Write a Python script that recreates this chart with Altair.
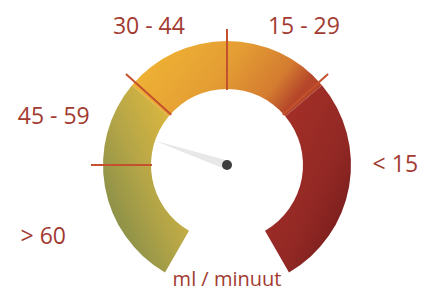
import math
import altair as alt
import pandas as pd

# ---------------- data ----------------
band_start = [-150, -50, 50]          # gauge band boundaries (degrees, 0 = top)
band_end = [-50, 50, 150]
tick_angles = [-90, -48, 0, 48]
needle_angle = -71.5
label_text = ["> 60", "45 - 59", "30 - 44", "15 - 29", "< 15"]
label_angle = [-113.3, -76.7, -30.8, 30.4, 92.5]
label_radius = [200, 178, 152.5, 152, 168.5]
unit_text = ["ml / minuut"]
unit_angle = [180]
unit_radius = [121]

# ---------------- styles ----------------
W, H = 410, 285
xs = alt.Scale(domain=[-219, 191], nice=False, zero=False)
ys = alt.Scale(domain=[-128, 157], nice=False, zero=False)
ts = alt.Scale(domain=[-180, 180], range=[-math.pi, math.pi])
TXT = "#a23b31"
FONT = "Open Sans"


def grad(x1, y1, x2, y2, stops):
    return alt.LinearGradient(
        gradient="linear", x1=x1, y1=y1, x2=x2, y2=y2,
        stops=[alt.GradientStop(offset=o, color=c) for o, c in stops],
    )


gradients = [
    grad(1, 0, 0, 1, [(0, "#f0c03b"), (0.5, "#b6a647"), (0.9, "#7e8a49"), (1, "#76884a")]),
    grad(0, 0, 1, 0.3, [(0, "#f2b935"), (0.55, "#e49d33"), (0.85, "#d47c30"), (1, "#b5462a")]),
    grad(0, 0, 1, 1, [(0, "#ab3229"), (0.6, "#922824"), (1, "#6a1818")]),
]

layers = []
for i in range(len(band_start)):
    df = pd.DataFrame({"start": [band_start[i]], "end": [band_end[i]], "cx": [0], "cy": [0]})
    layers.append(
        alt.Chart(df)
        .mark_arc(radius=124, radius2=76, fill=gradients[i])
        .encode(
            theta=alt.Theta("start:Q", scale=ts),
            theta2="end:Q",
            x=alt.X("cx:Q", scale=xs, axis=None),
            y=alt.Y("cy:Q", scale=ys, axis=None),
        )
    )

ticks = (
    alt.Chart(pd.DataFrame({"a": tick_angles}))
    .transform_calculate(
        xa="75*sin(datum.a*PI/180)", ya="75*cos(datum.a*PI/180)",
        xb="136*sin(datum.a*PI/180)", yb="136*cos(datum.a*PI/180)",
    )
    .mark_rule(color="#c4512d", strokeWidth=2)
    .encode(
        x=alt.X("xa:Q", scale=xs, axis=None),
        y=alt.Y("ya:Q", scale=ys, axis=None),
        x2="xb:Q",
        y2="yb:Q",
    )
)

needle = (
    alt.Chart(pd.DataFrame({"r": [0, 75], "w": [9, 0.3], "o": [0, 1], "a": [needle_angle] * 2}))
    .transform_calculate(nx="datum.r*sin(datum.a*PI/180)", ny="datum.r*cos(datum.a*PI/180)")
    .mark_trail(color="#e8e8e8")
    .encode(
        x=alt.X("nx:Q", scale=xs, axis=None),
        y=alt.Y("ny:Q", scale=ys, axis=None),
        size=alt.Size("w:Q", scale=None, legend=None),
        order="o:Q",
    )
)

dot = (
    alt.Chart(pd.DataFrame({"cx": [0], "cy": [0]}))
    .mark_circle(size=100, color="#3d3d3d", opacity=1)
    .encode(x=alt.X("cx:Q", scale=xs, axis=None), y=alt.Y("cy:Q", scale=ys, axis=None))
)

labels = (
    alt.Chart(pd.DataFrame({"t": label_text, "a": label_angle, "r": label_radius}))
    .transform_calculate(lx="datum.r*sin(datum.a*PI/180)", ly="datum.r*cos(datum.a*PI/180)")
    .mark_text(font=FONT, fontSize=23, color=TXT, align="center", baseline="alphabetic")
    .encode(x=alt.X("lx:Q", scale=xs, axis=None), y=alt.Y("ly:Q", scale=ys, axis=None), text="t:N")
)

unit = (
    alt.Chart(pd.DataFrame({"t": unit_text, "a": unit_angle, "r": unit_radius}))
    .transform_calculate(lx="datum.r*sin(datum.a*PI/180)", ly="datum.r*cos(datum.a*PI/180)")
    .mark_text(font=FONT, fontSize=20, color=TXT, align="center", baseline="alphabetic")
    .encode(x=alt.X("lx:Q", scale=xs, axis=None), y=alt.Y("ly:Q", scale=ys, axis=None), text="t:N")
)

chart = (
    alt.layer(*layers, ticks, needle, dot, labels, unit)
    .properties(width=W, height=H, padding=0, autosize=alt.AutoSizeParams(type="none"))
    .configure_view(stroke="transparent")
)

chart.save("out.html", embed_options={"renderer": "svg", "actions": False})
